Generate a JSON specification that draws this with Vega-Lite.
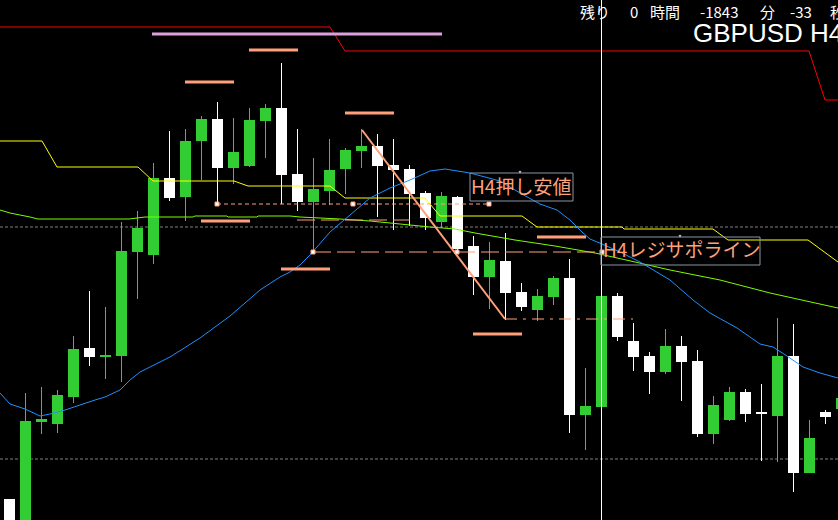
{
  "$schema": "https://vega.github.io/schema/vega-lite/v6.json",
  "width": 838,
  "height": 520,
  "autosize": {"type": "none"},
  "padding": 0,
  "background": "#000000",
  "config": {"view": {"stroke": null}, "axis": {"disable": true}, "legend": {"disable": true}},
  "datasets": {
    "candles": [
      {"t": 9.5, "o": 499, "h": 499, "l": 545, "c": 540, "dir": "down"},
      {"t": 25.5, "o": 545, "h": 393, "l": 550, "c": 421, "dir": "up"},
      {"t": 41.5, "o": 422, "h": 387, "l": 434, "c": 419, "dir": "up"},
      {"t": 57.5, "o": 424, "h": 390, "l": 433, "c": 395, "dir": "up"},
      {"t": 73.5, "o": 397, "h": 336, "l": 403, "c": 349, "dir": "up"},
      {"t": 89.5, "o": 348, "h": 291, "l": 366, "c": 357, "dir": "down"},
      {"t": 105.5, "o": 357, "h": 307, "l": 379, "c": 355, "dir": "up"},
      {"t": 121.5, "o": 356, "h": 222, "l": 382, "c": 251, "dir": "up"},
      {"t": 137.5, "o": 252, "h": 211, "l": 299, "c": 228, "dir": "up"},
      {"t": 153.5, "o": 255, "h": 163, "l": 264, "c": 178, "dir": "up"},
      {"t": 169.5, "o": 178, "h": 131, "l": 201, "c": 198, "dir": "down"},
      {"t": 185.5, "o": 197, "h": 129, "l": 221, "c": 141, "dir": "up"},
      {"t": 201.5, "o": 141, "h": 116, "l": 180, "c": 119, "dir": "up"},
      {"t": 217.5, "o": 119, "h": 102, "l": 204, "c": 168, "dir": "down"},
      {"t": 233.5, "o": 168, "h": 118, "l": 184, "c": 152, "dir": "up"},
      {"t": 249.5, "o": 166, "h": 108, "l": 167, "c": 120, "dir": "up"},
      {"t": 265.5, "o": 121, "h": 104, "l": 158, "c": 108, "dir": "up"},
      {"t": 281.5, "o": 108, "h": 63, "l": 204, "c": 175, "dir": "down"},
      {"t": 297.5, "o": 174, "h": 129, "l": 211, "c": 202, "dir": "down"},
      {"t": 313.5, "o": 202, "h": 158, "l": 252, "c": 189, "dir": "up"},
      {"t": 329.5, "o": 191, "h": 139, "l": 205, "c": 170, "dir": "up"},
      {"t": 345.5, "o": 169, "h": 148, "l": 194, "c": 150, "dir": "up"},
      {"t": 361.5, "o": 151, "h": 129, "l": 168, "c": 146, "dir": "up"},
      {"t": 377.5, "o": 146, "h": 134, "l": 217, "c": 166, "dir": "down"},
      {"t": 393.5, "o": 165, "h": 139, "l": 230, "c": 170, "dir": "down"},
      {"t": 409.5, "o": 169, "h": 165, "l": 226, "c": 194, "dir": "down"},
      {"t": 425.5, "o": 193, "h": 191, "l": 230, "c": 218, "dir": "down"},
      {"t": 441.5, "o": 222, "h": 192, "l": 228, "c": 196, "dir": "up"},
      {"t": 457.5, "o": 197, "h": 196, "l": 250, "c": 249, "dir": "down"},
      {"t": 473.5, "o": 246, "h": 236, "l": 295, "c": 277, "dir": "down"},
      {"t": 489.5, "o": 277, "h": 242, "l": 309, "c": 260, "dir": "up"},
      {"t": 505.5, "o": 261, "h": 233, "l": 320, "c": 293, "dir": "down"},
      {"t": 521.5, "o": 292, "h": 283, "l": 311, "c": 307, "dir": "down"},
      {"t": 537.5, "o": 310, "h": 289, "l": 321, "c": 296, "dir": "up"},
      {"t": 553.5, "o": 297, "h": 276, "l": 305, "c": 278, "dir": "up"},
      {"t": 569.5, "o": 278, "h": 259, "l": 433, "c": 415, "dir": "down"},
      {"t": 585.5, "o": 415, "h": 368, "l": 450, "c": 406, "dir": "up"},
      {"t": 601.5, "o": 407, "h": 294, "l": 409, "c": 296, "dir": "up"},
      {"t": 617.5, "o": 296, "h": 293, "l": 341, "c": 337, "dir": "down"},
      {"t": 633.5, "o": 341, "h": 323, "l": 371, "c": 357, "dir": "down"},
      {"t": 649.5, "o": 356, "h": 352, "l": 394, "c": 372, "dir": "down"},
      {"t": 665.5, "o": 372, "h": 329, "l": 374, "c": 346, "dir": "up"},
      {"t": 681.5, "o": 346, "h": 336, "l": 401, "c": 362, "dir": "down"},
      {"t": 697.5, "o": 361, "h": 350, "l": 437, "c": 434, "dir": "down"},
      {"t": 713.5, "o": 434, "h": 396, "l": 444, "c": 405, "dir": "up"},
      {"t": 729.5, "o": 420, "h": 387, "l": 421, "c": 392, "dir": "up"},
      {"t": 745.5, "o": 392, "h": 389, "l": 422, "c": 414, "dir": "down"},
      {"t": 761.5, "o": 412, "h": 384, "l": 461, "c": 414, "dir": "down"},
      {"t": 777.5, "o": 416, "h": 318, "l": 462, "c": 356, "dir": "up"},
      {"t": 793.5, "o": 356, "h": 324, "l": 492, "c": 473, "dir": "down"},
      {"t": 809.5, "o": 473, "h": 420, "l": 473, "c": 438, "dir": "up"},
      {"t": 825.5, "o": 412, "h": 410, "l": 424, "c": 417, "dir": "down"},
      {"t": 841.5, "o": 409, "h": 398, "l": 409, "c": 398, "dir": "up"}
    ],
    "red": [
      {"t": 0, "v": 27}, {"t": 330, "v": 27}, {"t": 345, "v": 51}, {"t": 809, "v": 51}, {"t": 825, "v": 100}, {"t": 838, "v": 100}
    ],
    "yellow": [
      {"t": 0, "v": 141}, {"t": 42, "v": 141}, {"t": 57, "v": 167}, {"t": 138, "v": 167}, {"t": 153, "v": 181},
      {"t": 234, "v": 181}, {"t": 248, "v": 186}, {"t": 330, "v": 186}, {"t": 345, "v": 198}, {"t": 425, "v": 198},
      {"t": 440, "v": 216}, {"t": 522, "v": 216}, {"t": 537, "v": 227}, {"t": 622, "v": 227}, {"t": 624, "v": 229},
      {"t": 713, "v": 229}, {"t": 728, "v": 240}, {"t": 808, "v": 240}, {"t": 838, "v": 262}
    ],
    "lime": [
      {"t": 0, "v": 210}, {"t": 10, "v": 213}, {"t": 20, "v": 215}, {"t": 30, "v": 217}, {"t": 38, "v": 219},
      {"t": 129, "v": 219}, {"t": 145, "v": 217}, {"t": 193, "v": 217}, {"t": 195, "v": 216}, {"t": 227, "v": 216},
      {"t": 228, "v": 217}, {"t": 257, "v": 217}, {"t": 258, "v": 216}, {"t": 290, "v": 216}, {"t": 300, "v": 217},
      {"t": 340, "v": 219}, {"t": 370, "v": 221}, {"t": 400, "v": 224}, {"t": 430, "v": 227}, {"t": 455, "v": 229},
      {"t": 475, "v": 233}, {"t": 515, "v": 240}, {"t": 555, "v": 246}, {"t": 595, "v": 253}, {"t": 635, "v": 262},
      {"t": 670, "v": 270}, {"t": 720, "v": 280}, {"t": 770, "v": 293}, {"t": 838, "v": 308}
    ],
    "blue": [
      {"t": 0, "v": 393}, {"t": 10, "v": 404}, {"t": 25, "v": 409}, {"t": 40, "v": 416}, {"t": 50, "v": 414},
      {"t": 65, "v": 410}, {"t": 80, "v": 405}, {"t": 95, "v": 400}, {"t": 105, "v": 397}, {"t": 120, "v": 390},
      {"t": 130, "v": 380}, {"t": 140, "v": 372}, {"t": 170, "v": 357}, {"t": 200, "v": 338}, {"t": 230, "v": 316},
      {"t": 260, "v": 290}, {"t": 280, "v": 277}, {"t": 290, "v": 272}, {"t": 300, "v": 265}, {"t": 310, "v": 255},
      {"t": 330, "v": 232}, {"t": 350, "v": 215}, {"t": 370, "v": 198}, {"t": 390, "v": 188}, {"t": 410, "v": 180},
      {"t": 430, "v": 171}, {"t": 445, "v": 169}, {"t": 470, "v": 173}, {"t": 500, "v": 181}, {"t": 520, "v": 193},
      {"t": 540, "v": 204}, {"t": 557, "v": 210}, {"t": 570, "v": 220}, {"t": 582, "v": 232}, {"t": 590, "v": 239},
      {"t": 602, "v": 244}, {"t": 620, "v": 252}, {"t": 640, "v": 262}, {"t": 670, "v": 280}, {"t": 693, "v": 300},
      {"t": 710, "v": 313}, {"t": 737, "v": 328}, {"t": 760, "v": 344}, {"t": 773, "v": 347}, {"t": 787, "v": 356},
      {"t": 803, "v": 367}, {"t": 820, "v": 373}, {"t": 838, "v": 378}
    ],
    "fractals": [
      {"t": 249, "t2": 298, "v": 50}, {"t": 185, "t2": 234, "v": 82}, {"t": 345, "t2": 394, "v": 113},
      {"t": 201, "t2": 250, "v": 221}, {"t": 281, "t2": 330, "v": 269}, {"t": 537, "t2": 586, "v": 237},
      {"t": 473, "t2": 522, "v": 334}
    ]
  },
  "layer": [
    {
      "data": {"values": [{"v": 227}, {"v": 459}]},
      "mark": {"type": "rule", "color": "#808080", "strokeWidth": 1, "strokeDash": [3, 2]},
      "encoding": {"y": {"field": "v", "type": "quantitative", "scale": {"domain": [0, 520], "nice": false, "zero": false, "reverse": true, "padding": 0}}}
    },
    {
      "data": {"name": "candles"},
      "mark": {"type": "rule", "strokeWidth": 1},
      "encoding": {
        "x": {"field": "t", "type": "quantitative", "scale": {"domain": [0, 838], "nice": false, "zero": false, "padding": 0}},
        "y": {"field": "h", "type": "quantitative"},
        "y2": {"field": "l"},
        "color": {"field": "dir", "type": "nominal", "scale": {"domain": ["up", "down"], "range": ["#32CD32", "#FFFFFF"]}, "legend": null}
      }
    },
    {
      "data": {"name": "candles"},
      "mark": {"type": "bar", "size": 11},
      "encoding": {
        "x": {"field": "t", "type": "quantitative"},
        "y": {"field": "o", "type": "quantitative"},
        "y2": {"field": "c"},
        "color": {"field": "dir", "type": "nominal", "legend": null}
      }
    },
    {
      "data": {"name": "red"},
      "mark": {"type": "line", "color": "#FF0000", "strokeWidth": 1},
      "encoding": {"x": {"field": "t", "type": "quantitative"}, "y": {"field": "v", "type": "quantitative"}}
    },
    {
      "data": {"name": "lime"},
      "mark": {"type": "line", "color": "#7CFC00", "strokeWidth": 1},
      "encoding": {"x": {"field": "t", "type": "quantitative"}, "y": {"field": "v", "type": "quantitative"}}
    },
    {
      "data": {"name": "yellow"},
      "mark": {"type": "line", "color": "#FFFF00", "strokeWidth": 1},
      "encoding": {"x": {"field": "t", "type": "quantitative"}, "y": {"field": "v", "type": "quantitative"}}
    },
    {
      "data": {"name": "blue"},
      "mark": {"type": "line", "color": "#1E90FF", "strokeWidth": 1},
      "encoding": {"x": {"field": "t", "type": "quantitative"}, "y": {"field": "v", "type": "quantitative"}}
    },
    {
      "data": {"values": [{"t": 152, "t2": 442, "v": 34}]},
      "mark": {"type": "rule", "color": "#DDA0DD", "strokeWidth": 3},
      "encoding": {"x": {"field": "t", "type": "quantitative"}, "x2": {"field": "t2"}, "y": {"field": "v", "type": "quantitative"}}
    },
    {
      "data": {"values": [{"t": 297, "t2": 410, "v": 220}]},
      "mark": {"type": "rule", "color": "#FFA07A", "strokeWidth": 1, "strokeDash": [18, 6]},
      "encoding": {"x": {"field": "t", "type": "quantitative"}, "x2": {"field": "t2"}, "y": {"field": "v", "type": "quantitative"}}
    },
    {
      "data": {"values": [{"t": 217, "t2": 490, "v": 204}]},
      "mark": {"type": "rule", "color": "#FFA07A", "strokeWidth": 1, "strokeDash": [4, 3]},
      "encoding": {"x": {"field": "t", "type": "quantitative"}, "x2": {"field": "t2"}, "y": {"field": "v", "type": "quantitative"}}
    },
    {
      "data": {"values": [{"t": 313, "t2": 602, "v": 252}]},
      "mark": {"type": "rule", "color": "#FFA07A", "strokeWidth": 1, "strokeDash": [18, 6]},
      "encoding": {"x": {"field": "t", "type": "quantitative"}, "x2": {"field": "t2"}, "y": {"field": "v", "type": "quantitative"}}
    },
    {
      "data": {"values": [{"t": 505, "t2": 633, "v": 319}]},
      "mark": {"type": "rule", "color": "#FFA07A", "strokeWidth": 1, "strokeDash": [12, 6, 3, 6]},
      "encoding": {"x": {"field": "t", "type": "quantitative"}, "x2": {"field": "t2"}, "y": {"field": "v", "type": "quantitative"}}
    },
    {
      "data": {"values": [{"t": 362, "v": 130}, {"t": 505, "v": 319}]},
      "mark": {"type": "line", "color": "#FFA07A", "strokeWidth": 2},
      "encoding": {"x": {"field": "t", "type": "quantitative"}, "y": {"field": "v", "type": "quantitative"}}
    },
    {
      "data": {"name": "fractals"},
      "mark": {"type": "rule", "color": "#FFA07A", "strokeWidth": 3},
      "encoding": {"x": {"field": "t", "type": "quantitative"}, "x2": {"field": "t2"}, "y": {"field": "v", "type": "quantitative"}}
    },
    {
      "data": {"values": [{"t": 601.5}]},
      "mark": {"type": "rule", "color": "#FFFFFF", "strokeWidth": 1},
      "encoding": {"x": {"field": "t", "type": "quantitative"}}
    },
    {
      "data": {"values": [
        {"t": 217, "v": 204}, {"t": 353, "v": 204}, {"t": 489, "v": 204},
        {"t": 313, "v": 252}, {"t": 457, "v": 252}, {"t": 602, "v": 252}
      ]},
      "mark": {"type": "point", "shape": "square", "size": 16, "filled": true, "fill": "#FFFFFF", "stroke": "#FFA07A", "strokeWidth": 1, "opacity": 1},
      "encoding": {"x": {"field": "t", "type": "quantitative"}, "y": {"field": "v", "type": "quantitative"}}
    },
    {
      "data": {"values": [{"t": 520, "v": 172}, {"t": 680, "v": 236}]},
      "mark": {"type": "point", "shape": "square", "size": 5, "filled": true, "color": "#DDA0DD", "opacity": 1},
      "encoding": {"x": {"field": "t", "type": "quantitative"}, "y": {"field": "v", "type": "quantitative"}}
    },
    {
      "data": {"values": [{"t": 470, "t2": 573, "v": 173, "v2": 201}, {"t": 601, "t2": 760, "v": 237, "v2": 265}]},
      "mark": {"type": "rect", "fillOpacity": 0, "stroke": "#8A96A6", "strokeWidth": 1},
      "encoding": {"x": {"field": "t", "type": "quantitative"}, "x2": {"field": "t2"}, "y": {"field": "v", "type": "quantitative"}, "y2": {"field": "v2"}}
    },
    {
      "data": {"values": [{"t": 471, "v": 193.5, "label": "H4押し安値"}, {"t": 603, "v": 257, "label": "H4レジサポライン"}]},
      "mark": {"type": "text", "color": "#FFA07A", "font": "Noto Sans CJK JP", "fontSize": 19, "align": "left", "baseline": "alphabetic"},
      "encoding": {"x": {"field": "t", "type": "quantitative"}, "y": {"field": "v", "type": "quantitative"}, "text": {"field": "label"}}
    },
    {
      "data": {"values": [
        {"t": 580, "v": 18, "label": "残り"}, {"t": 630, "v": 18, "label": "0"}, {"t": 650, "v": 18, "label": "時間"},
        {"t": 700, "v": 18, "label": "-1843"}, {"t": 760, "v": 18, "label": "分"}, {"t": 790, "v": 18, "label": "-33"},
        {"t": 830, "v": 18, "label": "秒"}
      ]},
      "mark": {"type": "text", "color": "#FFFFFF", "font": "Noto Sans CJK JP", "fontSize": 15, "align": "left", "baseline": "alphabetic"},
      "encoding": {"x": {"field": "t", "type": "quantitative"}, "y": {"field": "v", "type": "quantitative"}, "text": {"field": "label"}}
    },
    {
      "data": {"values": [{"t": 693, "v": 42, "label": "GBPUSD H4"}]},
      "mark": {"type": "text", "color": "#FFFFFF", "font": "Liberation Sans", "fontSize": 26, "align": "left", "baseline": "alphabetic"},
      "encoding": {"x": {"field": "t", "type": "quantitative"}, "y": {"field": "v", "type": "quantitative"}, "text": {"field": "label"}}
    }
  ]
}
